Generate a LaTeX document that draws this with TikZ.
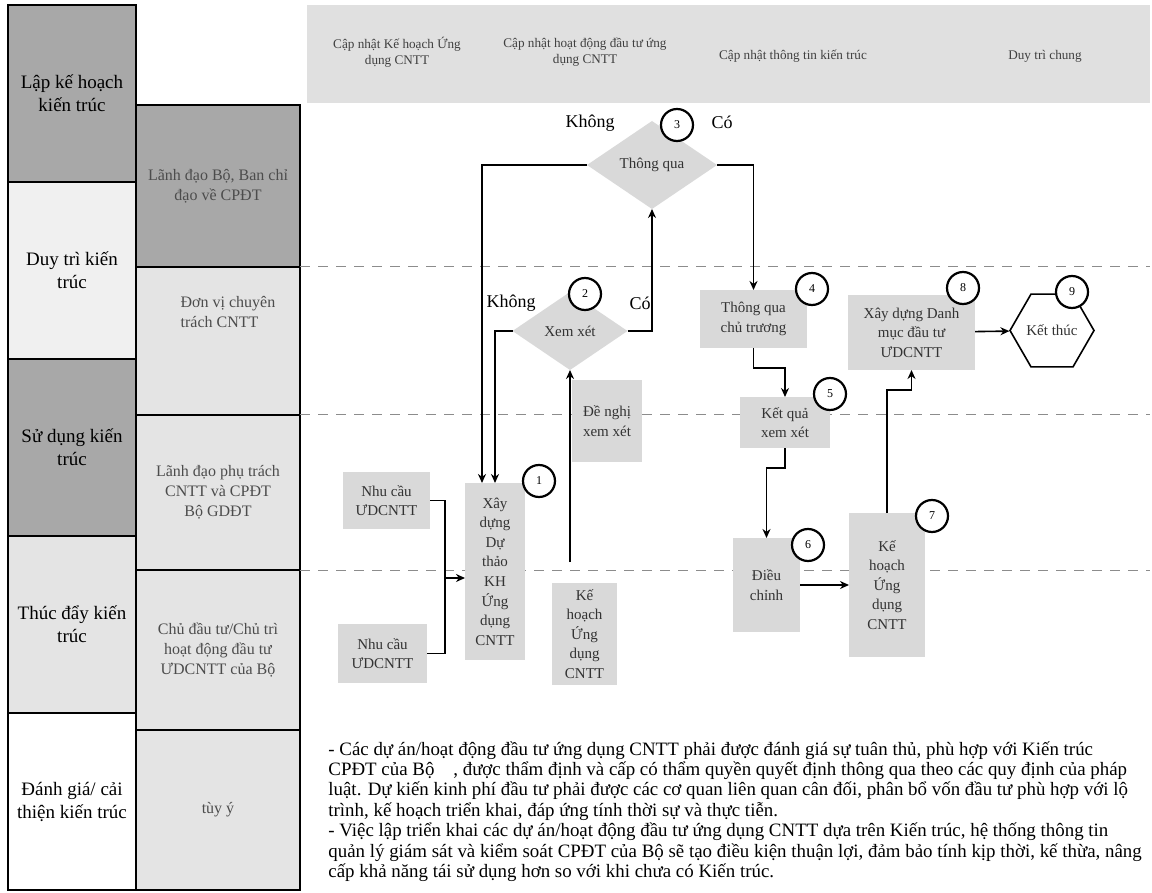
\documentclass[tikz,border=0pt]{standalone}
\usepackage{fontspec}
\setmainfont{Liberation Serif}
\usetikzlibrary{arrows.meta,positioning,shapes.geometric}
\definecolor{darkcell}{HTML}{A8A8A8}
\definecolor{lightcell}{HTML}{E4E4E4}
\definecolor{palecell}{HTML}{F0F0F0}
\definecolor{boxgray}{HTML}{D9D9D9}
\definecolor{bandgray}{HTML}{E0E0E0}

\begin{document}
\begin{tikzpicture}[x=0.5pt, y=-0.5pt,
  phase/.style={draw, line width=1pt, minimum width=64pt, minimum height=88.5pt, inner sep=1pt, outer sep=0pt, align=center, font=\fontsize{9.5}{11.5}\selectfont},
  role/.style={draw, line width=1pt, minimum width=82pt, inner sep=2pt, outer sep=0pt, align=center, font=\fontsize{8}{10}\selectfont, text=black!70},
  upd/.style={align=center, font=\fontsize{6.6}{8}\selectfont, text=black!75},
  proc/.style={fill=boxgray, inner sep=1pt, outer sep=0pt, align=center, font=\fontsize{7.5}{9.8}\selectfont, text=black!80},
  decide/.style={diamond, aspect=1.5, fill=boxgray, inner sep=0pt, outer sep=0pt, font=\fontsize{7.5}{9}\selectfont, text=black!80},
  num/.style={circle, draw, line width=1.1pt, fill=white, minimum size=16pt, inner sep=0pt, font=\fontsize{6}{7}\selectfont},
  ans/.style={font=\fontsize{9}{10}\selectfont},
  arr/.style={line width=0.8pt, -{Stealth[length=4.5pt,width=4pt]}},
  lane/.style={black!45, line width=0.5pt, dash pattern=on 5pt off 4pt}
]
\useasboundingbox (0,0) rectangle (1152,893);
\clip (0,0) rectangle (1152,893);

% phases of the architecture
\node[phase, fill=darkcell] (p1) at (72,93.5) {Lập kế hoạch\\kiến trúc};
\node[phase, fill=palecell] (p2) at (72,270.5) {Duy trì kiến\\trúc};
\node[phase, fill=darkcell] (p3) at (72,447.5) {Sử dụng kiến\\trúc};
\node[phase, fill=lightcell] (p4) at (72,624.5) {Thúc đẩy kiến\\trúc};
\node[phase, fill=white] (p5) at (72,801.5) {Đánh giá/ cải\\thiện kiến trúc};

% roles
\node[role, fill=darkcell, minimum height=81pt] (r1) at (218,186) {Lãnh đạo Bộ, Ban chỉ\\đạo về CPĐT};
\node[role, fill=lightcell, minimum height=74pt] (r2) at (218,341) {};
\node[role, fill=lightcell, minimum height=77.5pt] (r3) at (218,492.5) {Lãnh đạo phụ trách\\CNTT và CPĐT\\Bộ GDĐT};
\node[role, fill=lightcell, minimum height=80pt] (r4) at (218,650) {Chủ đầu tư/Chủ trì\\hoạt động đầu tư\\ƯDCNTT của Bộ};
\node[role, fill=lightcell, minimum height=80pt] (r5) at (218,810) {tùy ý};
\node[role, draw=none, align=left, anchor=north west] (r2t) at (146,292) {Đơn vị chuyên\\trách CNTT};

% header band
\node[fill=bandgray, minimum width=421.5pt, minimum height=49pt, inner sep=0pt] (band) at (728.5,54) {};
\node[upd] (u1) at (397,52) {Cập nhật Kế hoạch Ứng\\dụng CNTT};
\node[upd] (u2) at (585,52) {Cập nhật hoạt động đầu tư ứng\\dụng CNTT};
\node[upd] (u3) at (793,56) {Cập nhật thông tin kiến trúc};
\node[upd] (u4) at (1045,56) {Duy trì chung};

% lanes
\draw[lane] (r1.south east) -- (r1.south east -| band.east);
\draw[lane] (r2.south east) -- (r2.south east -| band.east);
\draw[lane] (r3.south east) -- (r3.south east -| band.east);

% flow
\node[proc, minimum width=43.5pt, minimum height=28.5pt] (nc1) at (386.5,500.5) {Nhu cầu\\ƯDCNTT};
\node[proc, minimum width=44.5pt, minimum height=29.5pt] (nc2) at (382.5,653.5) {Nhu cầu\\ƯDCNTT};
\node[proc, minimum width=30pt, minimum height=88.5pt] (b1) at (495,571.5) {Xây\\dựng\\Dự\\thảo\\KH\\Ứng\\dụng\\CNTT};
\node[proc, minimum width=32.5pt, minimum height=51pt] (kh) at (584.5,634) {Kế\\hoạch\\Ứng\\dụng\\CNTT};
\node[proc, minimum width=35pt, minimum height=41pt] (dn) at (607,421) {Đề nghị\\xem xét};
\node[decide, minimum width=57.5pt, minimum height=39pt] (d2) at (570,331) {Xem xét};
\node[decide, minimum width=65pt, minimum height=44pt] (d3) at (652,165) {Thông qua};
\node[proc, minimum width=53.5pt, minimum height=29pt] (b4) at (753.5,319) {Thông qua\\chủ trương};
\node[proc, minimum width=45pt, minimum height=25.5pt] (b5) at (785,422.5) {Kết quả\\xem xét};
\node[proc, minimum width=33.5pt, minimum height=47pt] (b6) at (766.5,585) {Điều\\chỉnh};
\node[proc, minimum width=38pt, minimum height=72pt] (b7) at (887,585) {Kế\\hoạch\\Ứng\\dụng\\CNTT};
\node[proc, minimum width=63.5pt, minimum height=37.5pt] (b8) at (911.5,332.5) {Xây dựng Danh\\mục đầu tư\\ƯDCNTT};
\node[regular polygon, regular polygon sides=6, draw, line width=0.8pt, fill=white, minimum size=42pt, inner sep=0pt, font=\fontsize{7.5}{9}\selectfont, text=black!80] (k9) at (1052,330.5) {Kết thúc};

% step numbers
\node[num] (n1) at (539,481) {1};
\node[num] (n2) at (585,294) {2};
\node[num] (n3) at (677,125) {3};
\node[num] (n4) at (812,289) {4};
\node[num] (n5) at (830,394) {5};
\node[num] (n6) at (808,545) {6};
\node[num] (n7) at (932,516) {7};
\node[num] (n8) at (963,288) {8};
\node[num] (n9) at (1072,292) {9};

\node[ans] (no3) at (590,123) {Không};
\node[ans] (yes3) at (722,122) {Có};
\node[ans] (no2) at (511,303) {Không};
\node[ans] (yes2) at (640,303) {Có};

% connectors
\coordinate (jn) at (445,578);
\draw[line width=0.8pt] (nc1.east) -| (jn);
\draw[line width=0.8pt] (nc2.east) -| (jn);
\draw[arr] (jn) -- (jn -| b1.west);
\draw[arr] (d3.west) -| ([xshift=-6.5pt]b1.north);
\draw[arr] (d2.west) -| (b1.north);
\draw[arr] (d2.east) -| (d3.south);
\draw[arr] (kh.north -| d2.south) ++(0,-21) -- (d2.south);
\draw[arr] (d3.east) -| (b4.north);
\draw[arr] (b4.south) -- ++(0,20) -| (b5.north);
\draw[arr] (b5.south) -- ++(0,20) -| (b6.north);
\draw[arr] (b6) -- (b7);
\draw[arr] (b7.north) -- ++(0,-123) -| (b8.south);
\draw[arr] (b8) -- (k9);

% note
\node[anchor=north west, align=left, inner sep=0pt, font=\fontsize{9.45}{10.2}\selectfont] (note) at (328,741) {- Các dự án/hoạt động đầu tư ứng dụng CNTT phải được đánh giá sự tuân thủ, phù hợp với Kiến trúc\\
CPĐT của Bộ\quad, được thẩm định và cấp có thẩm quyền quyết định thông qua theo các quy định của pháp\\
luật. Dự kiến kinh phí đầu tư phải được các cơ quan liên quan cân đối, phân bổ vốn đầu tư phù hợp với lộ\\
trình, kế hoạch triển khai, đáp ứng tính thời sự và thực tiễn.\\
- Việc lập triển khai các dự án/hoạt động đầu tư ứng dụng CNTT dựa trên Kiến trúc, hệ thống thông tin\\
quản lý giám sát và kiểm soát CPĐT của Bộ sẽ tạo điều kiện thuận lợi, đảm bảo tính kịp thời, kế thừa, nâng\\
cấp khả năng tái sử dụng hơn so với khi chưa có Kiến trúc.};
\end{tikzpicture}
\end{document}
